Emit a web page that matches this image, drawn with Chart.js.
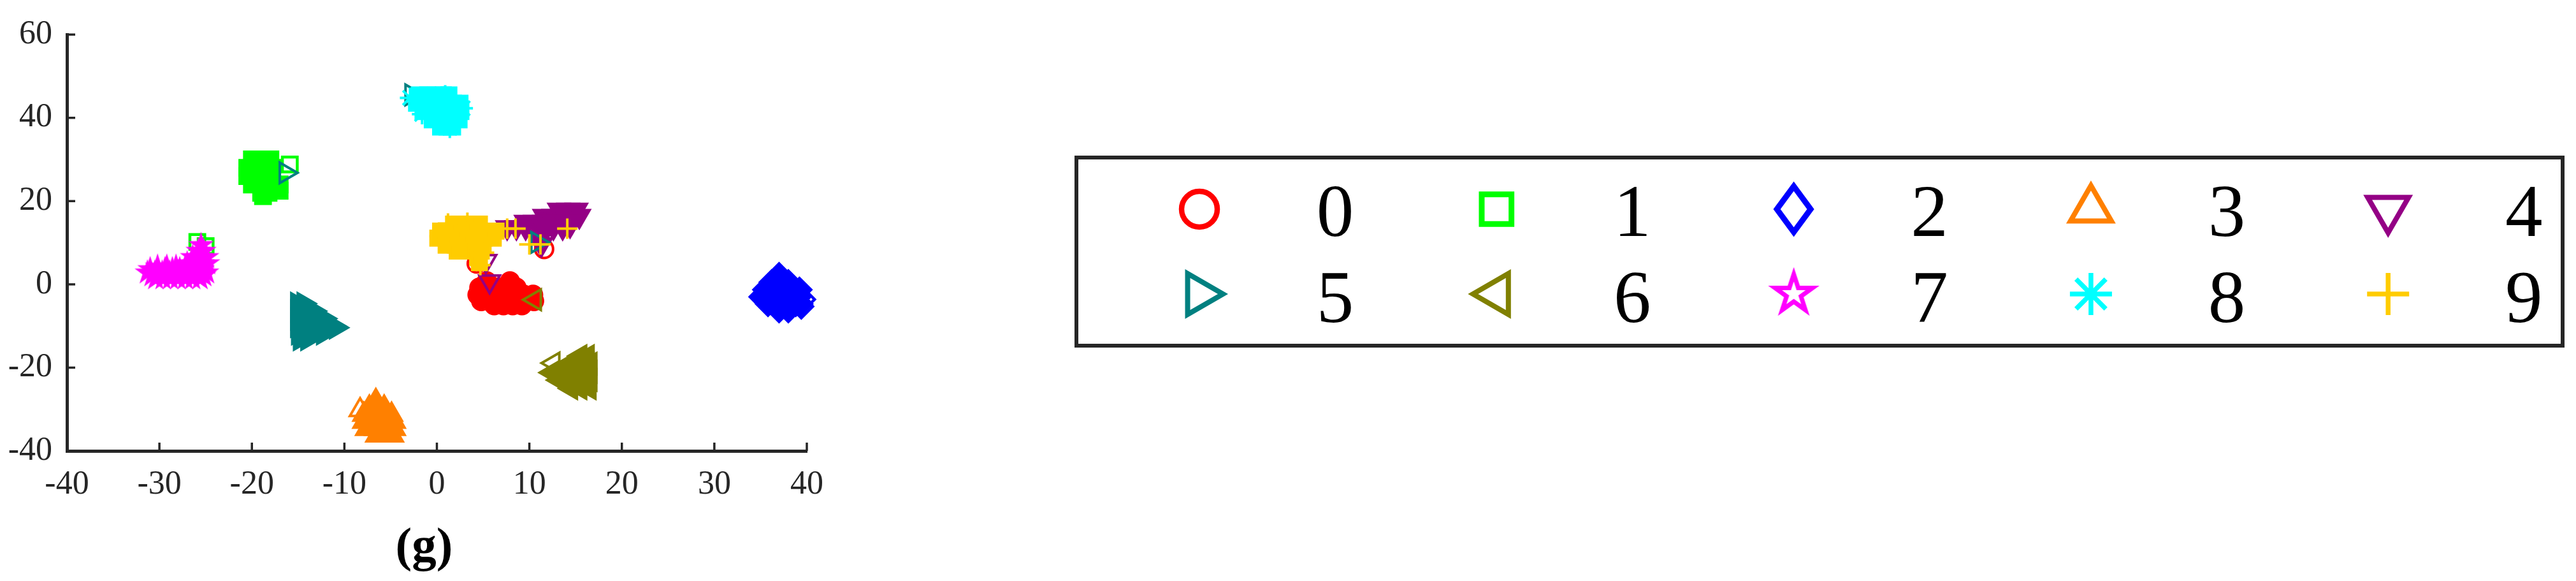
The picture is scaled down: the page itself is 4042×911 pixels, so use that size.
<!DOCTYPE html>
<html>
<head>
<meta charset="utf-8">
<script src="https://cdn.jsdelivr.net/npm/chart.js@4.4.1/dist/chart.umd.min.js"></script>
<style>
  html, body { margin: 0; padding: 0; background: #fff; }
  #contenedor { position: relative; width: 4042px; height: 911px; }
</style>
</head>
<body>
<div id="contenedor"><canvas id="grafica"></canvas></div>
<script>
// Ticks de los ejes
const ticksX = [-40, -30, -20, -10, 0, 10, 20, 30, 40];
const ticksY = [-40, -20, 0, 20, 40, 60];

// Clases (leyenda)
const etiquetas = ["0", "1", "2", "3", "4", "5", "6", "7", "8", "9"];
const colores = ["#ff0000", "#00ff00", "#0000ff", "#ff8000", "#940085",
                 "#008080", "#808000", "#ff00ff", "#00ffff", "#ffcc00"];

// Núcleo de cada grupo (marcadores rellenos) y puntos sueltos (huecos)
const nucleo0 = [[5.4,0.7],[7.9,0.7],
  [4.6,-0.8],[5.6,-0.8],[6.6,-0.8],[7.6,-0.8],[8.6,-0.8],
  [4.4,-2.5],[5.4,-2.5],[6.4,-2.5],[7.4,-2.5],[8.4,-2.5],[9.4,-2.5],[10.4,-2.5],
  [4.8,-4.0],[5.8,-4.0],[6.8,-4.0],[7.8,-4.0],[8.8,-4.0],[9.8,-4.0],[10.5,-4.0],
  [6.2,-5.0],[7.2,-5.0],[8.2,-5.0],[9.2,-5.0]];
const sueltos0 = [[4.3,5.0],[11.6,8.5]];

const nucleo1 = [[-20.0,30.0],[-19.0,30.0],[-18.0,30.0],
  [-20.5,28.0],[-19.5,28.0],[-18.5,28.0],[-17.8,28.0],
  [-20.5,26.0],[-19.5,26.0],[-18.5,26.0],[-17.8,26.0],
  [-20.0,24.0],[-19.0,24.0],[-18.0,24.0],[-17.0,24.0],
  [-19.0,22.0],[-18.2,22.0],[-17.0,22.5],[-18.8,21.2]];
const sueltos1 = [[-15.9,28.8],[-25.0,9.2],[-25.9,10.2]];

const nucleo2 = [[37.0,2.2],
  [36.2,0.5],[37.2,0.5],[38.0,0.5],
  [35.5,-1.3],[36.5,-1.3],[37.5,-1.3],[38.5,-1.3],[39.2,-1.3],
  [35.1,-3.0],[36.1,-3.0],[37.1,-3.0],[38.1,-3.0],[39.1,-3.0],
  [35.8,-4.7],[36.8,-4.7],[37.8,-4.7],[38.8,-4.7],[39.3,-4.7],
  [37.0,-6.2],[38.0,-6.2]];
const sueltos2 = [[39.6,-3.6],[39.4,-5.3]];

const nucleo3 = [[-6.6,-28.0],
  [-7.3,-29.6],[-6.4,-29.6],[-5.7,-29.6],
  [-7.9,-31.3],[-6.9,-31.3],[-5.9,-31.3],[-4.9,-31.3],
  [-7.9,-33.0],[-6.9,-33.0],[-5.9,-33.0],[-4.6,-33.0],
  [-7.6,-34.7],[-6.6,-34.7],[-5.6,-34.7],[-4.6,-34.7],
  [-6.5,-36.3],[-5.6,-36.3],[-4.8,-36.3]];
const sueltos3 = [[-8.3,-30.2]];

const nucleo4 = [[13.2,17.9],[14.2,17.9],[15.1,17.9],
  [11.6,16.4],[12.6,16.4],[13.6,16.4],[14.6,16.4],[15.4,16.4],
  [9.6,15.0],[10.6,15.0],[11.6,15.0],[12.6,15.0],[13.6,15.0],[14.6,15.0],
  [7.6,13.7],[8.6,13.7],[9.6,13.7],[10.6,13.7],[11.6,13.7],[12.6,13.7],[13.6,13.7],[14.4,14.2],
  [10.6,12.6],[11.6,12.6],[11.3,9.6]];
const sueltos4 = [[5.7,0.7],[5.3,5.6]];

const nucleo5 = [[-15.1,-4.6],[-14.4,-4.6],
  [-15.1,-6.4],[-14.2,-6.4],[-13.3,-6.4],
  [-15.1,-8.2],[-14.2,-8.2],[-13.2,-8.2],[-12.2,-8.2],
  [-15.1,-10.0],[-14.2,-10.0],[-13.2,-10.0],[-12.2,-10.0],[-11.2,-10.0],[-10.9,-10.4],
  [-15.0,-11.8],[-14.1,-11.8],[-13.1,-11.8],[-12.3,-11.8],
  [-14.8,-13.2],[-14.0,-13.2]];
const sueltos5 = [[-16.35,26.8],[-2.75,45.5],[10.85,10.1]];

const nucleo6 = [[15.5,-17.2],[16.3,-17.2],
  [14.3,-19.0],[15.3,-19.0],[16.3,-19.0],[16.6,-19.0],
  [12.4,-21.2],[13.3,-21.0],[14.3,-21.0],[15.3,-21.0],[16.3,-21.0],[16.6,-21.0],
  [13.2,-23.0],[14.2,-23.0],[15.2,-23.0],[16.2,-23.0],[16.6,-23.0],
  [14.5,-25.0],[15.5,-25.0],[16.5,-25.0]];
const sueltos6 = [[12.6,-18.9],[10.6,-3.7]];

const nucleo7 = [
  [-30.4,1.4],[-29.6,1.4],[-28.8,1.4],[-28.0,1.4],[-27.2,1.4],[-26.4,1.4],[-25.6,1.4],
  [-30.8,2.1],[-30.0,2.1],[-29.2,2.1],[-28.4,2.1],[-27.6,2.1],[-26.8,2.1],[-26.0,2.1],[-25.2,2.1],
  [-31.3,2.8],[-30.5,2.8],[-29.7,2.8],[-28.9,2.8],[-28.1,2.8],[-27.3,2.8],[-26.5,2.8],[-25.7,2.8],[-24.9,2.8],
  [-31.0,3.6],[-30.2,3.6],[-29.4,3.6],[-28.6,3.6],[-27.8,3.6],[-27.0,3.6],[-26.2,3.6],[-25.4,3.6],
  [-30.2,4.2],[-29.2,4.2],[-28.2,4.2],[-27.2,4.2],[-26.2,4.2],
  [-27.0,5.0],[-26.2,5.0],[-25.4,5.0],[-24.8,5.0],
  [-26.4,6.5],[-25.6,6.5],[-24.9,6.5],
  [-25.8,8.0],[-25.2,8.0],[-25.5,9.4]];
const sueltos7 = [];

const nucleo8 = [[-1.9,45.5],[-1.0,45.5],[-0.1,45.5],[0.7,45.5],[1.3,45.5],
  [-2.2,43.5],[-1.2,43.5],[-0.2,43.5],[0.8,43.5],[1.8,43.5],[2.5,43.5],
  [-1.5,41.5],[-0.5,41.5],[0.5,41.5],[1.5,41.5],[2.6,41.5],
  [-0.5,39.5],[0.5,39.5],[1.5,39.5],[2.4,39.5],
  [0.4,37.8],[1.1,37.8],[1.7,37.8]];
const sueltos8 = [[-2.9,44.8],[0.9,45.4],[2.8,42.3],[1.4,37.6],[-1.6,40.9]];

const nucleo9 = [[1.8,14.5],[2.8,14.5],[3.8,14.5],[4.6,14.5],
  [0.4,12.8],[1.4,12.8],[2.4,12.8],[3.4,12.8],[4.4,12.8],[5.4,12.8],[6.4,12.8],
  [0.1,11.1],[1.1,11.1],[2.1,11.1],[3.1,11.1],[4.1,11.1],[5.1,11.1],[6.1,11.1],
  [1.0,9.4],[2.0,9.4],[3.0,9.4],[4.0,9.4],[5.0,9.4],
  [2.2,8.0],[3.2,8.0],[4.2,8.0],[4.8,8.0],
  [4.4,6.5],[4.6,5.2]];
const sueltos9 = [[7.6,13.4],[8.5,13.4],[10.0,9.6],[11.2,9.6],[14.1,13.4],
  [5.1,7.6],[1.2,14.6],[3.3,14.8],[0.3,11.6],[4.7,4.6]];

const nucleos = [nucleo0, nucleo1, nucleo2, nucleo3, nucleo4, nucleo5, nucleo6, nucleo7, nucleo8, nucleo9];
const sueltos = [sueltos0, sueltos1, sueltos2, sueltos3, sueltos4, sueltos5, sueltos6, sueltos7, sueltos8, sueltos9];

// Estilo de marcador por clase (tamaño en la gráfica)
const marcadores = [
  { estilo: "circle",     rot: 0,   r: 14,   bw: 4 },
  { estilo: "rect",       rot: 0,   r: 16.5, bw: 4.5 },
  { estilo: "rectRot",    rot: 0,   r: 18,   bw: 4.5 },
  { estilo: "triangle",   rot: 0,   r: 18.5, bw: 4 },
  { estilo: "triangle",   rot: 180, r: 18.5, bw: 4 },
  { estilo: "triangle",   rot: 90,  r: 18.5, bw: 4 },
  { estilo: "triangle",   rot: -90, r: 18.5, bw: 4 },
  { estilo: "pentagrama", rot: 0,   r: 15.5, bw: 3.5 },
  { estilo: "star",       rot: 0,   r: 16,   bw: 4 },
  { estilo: "cross",      rot: 0,   r: 16,   bw: 4 }
];

// Pentagrama como imagen (Chart.js no lo trae)
function hacerPentagrama(R, lw, color, relleno) {
  const m = Math.ceil(R + lw * 2.5);
  const c = document.createElement("canvas");
  c.width = c.height = 2 * m;
  const g = c.getContext("2d");
  g.beginPath();
  for (let k = 0; k < 10; k++) {
    const rr = k % 2 === 0 ? R : R * 0.382;
    const a = -Math.PI / 2 + k * Math.PI / 5;
    const px = m + rr * Math.cos(a), py = m + rr * Math.sin(a);
    if (k === 0) g.moveTo(px, py); else g.lineTo(px, py);
  }
  g.closePath();
  g.lineJoin = "miter";
  g.lineWidth = lw;
  g.strokeStyle = color;
  if (relleno) { g.fillStyle = color; g.fill(); }
  g.stroke();
  return c;
}

const estrellaLlena = hacerPentagrama(15.5, 3.5, colores[7], true);
const estrellaHueca = hacerPentagrama(15.5, 3.5, colores[7], false);
const estrellaLeyenda = hacerPentagrama(31, 7, colores[7], false);

const datasets = etiquetas.map((et, i) => {
  const m = marcadores[i];
  const n = nucleos[i].length;
  const puntos = nucleos[i].concat(sueltos[i]).map(([x, y]) => ({ x, y }));
  return {
    label: et,
    data: puntos,
    order: 9 - i,
    clip: false,
    borderColor: colores[i],
    pointBorderColor: colores[i],
    pointBackgroundColor: ctx => ctx.dataIndex < n ? colores[i] : "rgba(0,0,0,0)",
    pointStyle: ctx => {
      const lleno = ctx.dataIndex < n;
      if (m.estilo === "pentagrama") return lleno ? estrellaLlena : estrellaHueca;
      if (lleno && (m.estilo === "star" || m.estilo === "cross")) return "rect";
      return m.estilo;
    },
    pointRotation: m.rot,
    pointRadius: m.r,
    pointHoverRadius: m.r,
    pointBorderWidth: m.bw,
    pointHoverBorderWidth: m.bw
  };
});

// Ticks hacia dentro, leyenda con recuadro y etiqueta (g)
const extras = {
  id: "extras",
  afterDraw(chart) {
    const { ctx, chartArea: a, scales: { x, y } } = chart;
    ctx.save();
    ctx.strokeStyle = "#262626";
    ctx.lineWidth = 3.5;
    x.ticks.forEach(t => {
      const px = x.getPixelForValue(t.value);
      ctx.beginPath(); ctx.moveTo(px, a.bottom); ctx.lineTo(px, a.bottom - 13); ctx.stroke();
    });
    y.ticks.forEach(t => {
      const py = y.getPixelForValue(t.value);
      ctx.beginPath(); ctx.moveTo(a.left, py); ctx.lineTo(a.left + 13, py); ctx.stroke();
    });

    // recuadro de la leyenda
    ctx.lineWidth = 6;
    ctx.strokeRect(1689, 247, 4021 - 1689, 542 - 247);

    const dibujar = Chart.helpers.drawPointLegend ||
      ((c, o, px, py) => Chart.helpers.drawPoint(c, o, px, py));
    const filas = [328, 461];
    const bases = [369.5, 504.5];
    chart.data.datasets.forEach((ds, i) => {
      const m = marcadores[i];
      const col = i % 5, fila = Math.floor(i / 5);
      const mx = 1882 + col * 466.3, my = filas[fila];
      ctx.save();
      ctx.fillStyle = "rgba(0,0,0,0)";
      ctx.strokeStyle = colores[i];
      let op = { pointStyle: m.estilo, rotation: m.rot, radius: m.r * 2, borderWidth: m.bw * 2 };
      let w;
      if (m.estilo === "circle") op = { pointStyle: "circle", rotation: 0, radius: 28, borderWidth: 8.5 };
      if (m.estilo === "rect") op = { pointStyle: "rect", rotation: 0, radius: 33, borderWidth: 9 };
      if (m.estilo === "rectRot") { op = { pointStyle: "rectRot", rotation: 0, radius: 36, borderWidth: 9 }; w = 53; }
      if (m.estilo === "triangle") op = { pointStyle: "triangle", rotation: m.rot, radius: 37, borderWidth: 8 };
      if (m.estilo === "pentagrama") op = { pointStyle: estrellaLeyenda, rotation: 0, radius: 35, borderWidth: 7 };
      if (m.estilo === "star" || m.estilo === "cross") op = { pointStyle: m.estilo, rotation: 0, radius: 33, borderWidth: 7.5 };
      ctx.lineWidth = op.borderWidth;
      ctx.lineJoin = "miter";
      dibujar(ctx, op, mx, my, w);
      ctx.restore();

      ctx.fillStyle = "#000";
      ctx.font = '117px "Liberation Serif"';
      ctx.textAlign = "center";
      ctx.textBaseline = "alphabetic";
      ctx.fillText(ds.label, mx + 213, bases[fila]);
    });

    // etiqueta del panel
    ctx.fillStyle = "#000";
    ctx.font = 'bold 77px "Liberation Serif"';
    ctx.textAlign = "center";
    ctx.textBaseline = "alphabetic";
    ctx.fillText("(g)", (a.left + a.right) / 2 - 20, 880);
    ctx.restore();
  }
};

const fuenteEjes = { family: "Liberation Serif", size: 52 };

new Chart(document.getElementById("grafica"), {
  type: "scatter",
  data: { datasets },
  options: {
    responsive: true,
    maintainAspectRatio: false,
    animation: false,
    events: [],
    layout: { padding: { left: 0, top: 33, right: 2776, bottom: 0 } },
    plugins: { legend: { display: false }, tooltip: { enabled: false } },
    scales: {
      x: {
        type: "linear",
        position: "bottom",
        min: -40,
        max: 40,
        afterBuildTicks: s => { s.ticks = ticksX.map(v => ({ value: v })); },
        afterFit: s => { s.height = 204; },
        grid: { display: false, drawTicks: false },
        border: { display: true, color: "#262626", width: 5 },
        ticks: { color: "#262626", font: fuenteEjes, padding: 22, maxRotation: 0, autoSkip: false }
      },
      y: {
        type: "linear",
        position: "left",
        min: -40,
        max: 60,
        afterBuildTicks: s => { s.ticks = ticksY.map(v => ({ value: v })); },
        afterFit: s => { s.width = 105; },
        grid: { display: false, drawTicks: false },
        border: { display: true, color: "#262626", width: 5 },
        ticks: { color: "#262626", font: fuenteEjes, padding: 23, autoSkip: false }
      }
    }
  },
  plugins: [extras]
});
</script>
</body>
</html>
